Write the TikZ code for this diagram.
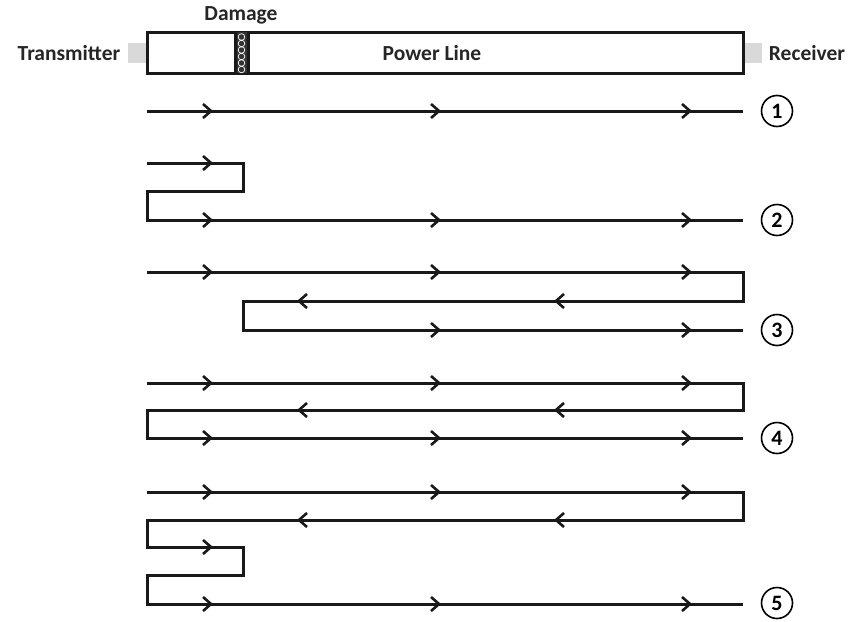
\documentclass[tikz,border=0pt]{standalone}
\usepackage{fontspec}
\setmainfont{Carlito}
\usetikzlibrary{arrows.meta}

\begin{document}
\begin{tikzpicture}[x=1pt, y=-1pt, line join=miter,
    wire/.style={line width=3pt, black!90},
    tip/.style={-{Straight Barb[length=8pt, width=14pt, line width=2.6pt]}},
    lbl/.style={font=\bfseries\fontsize{21.5}{23}\selectfont, text=black!85},
    num/.style={draw, circle, line width=1.6pt, minimum size=31pt, inner sep=0pt,
        font=\bfseries\fontsize{22}{24}\selectfont}]

    \useasboundingbox (0,0) rectangle (858,621);

    % power line and its ends
    \fill[black!15] (128,43) rectangle (147,63);
    \fill[black!15] (743,43) rectangle (762,63);
    \draw[wire] (147,32) rectangle (743,73);
    \fill[black!80] (235,32) rectangle (248,73);
    \foreach \k in {0,...,5}
        \draw[white, line width=0.7pt] (241.5,{37+\k*6.5}) circle (3.3pt);
    \draw[wire] (235,32) -- (235,73) (248,32) -- (248,73);

    \node[lbl] (tx) at (69,53) {Transmitter};
    \node[lbl] (rx) at (807,53) {Receiver};
    \node[lbl] (dmg) at (241,15) {Damage};
    \node[lbl] (pl) at (432,53) {Power Line};

    % 1: straight through
    \draw[wire] (147,111) -- (743,111);
    \node[num] (n1) at (777,111) {1};

    % 2: reflection at the damage
    \draw[wire] (147,163) -- (243,163) -- (243,191) -- (147,191) -- (147,220) -- (743,220);
    \node[num] (n2) at (777,220) {2};

    % 3: receiver -> damage -> receiver
    \draw[wire] (147,272) -- (743,272) -- (743,301) -- (243,301) -- (243,330) -- (743,330);
    \node[num] (n3) at (777,330) {3};

    % 4: receiver -> transmitter -> receiver
    \draw[wire] (147,383) -- (743,383) -- (743,410) -- (147,410) -- (147,438) -- (743,438);
    \node[num] (n4) at (777,438) {4};

    % 5
    \draw[wire] (147,492) -- (743,492) -- (743,520) -- (147,520) -- (147,547) -- (243,547)
        -- (243,575) -- (147,575) -- (147,604) -- (743,604);
    \node[num] (n5) at (777,603) {5};

    % arrow heads
    \foreach \y in {111,163,220,272,383,438,492,547,604}
        \draw[wire, tip] (200,\y) -- (213,\y);
    \foreach \y in {111,220,272,330,383,438,492,604}{
        \draw[wire, tip] (428,\y) -- (441,\y);
        \draw[wire, tip] (679,\y) -- (692,\y);
    }
    \foreach \y in {301,410,520}{
        \draw[wire, tip] (310,\y) -- (297,\y);
        \draw[wire, tip] (567,\y) -- (554,\y);
    }

\end{tikzpicture}
\end{document}
